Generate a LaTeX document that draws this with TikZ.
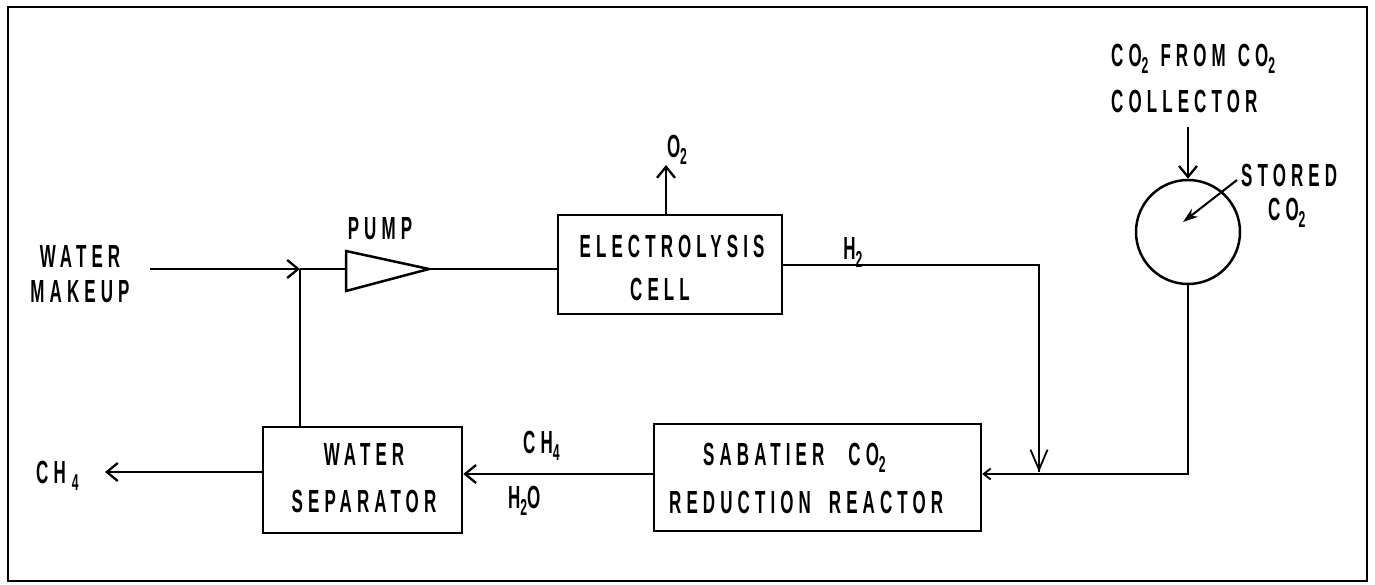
\documentclass[tikz,border=0pt]{standalone}
\usepackage{fontspec}
\setmainfont{Liberation Sans}[FakeStretch=0.53,LetterSpace=16]
\usetikzlibrary{arrows.meta}
\newcommand\lsub[1]{\raisebox{-7pt}{\fontsize{23}{23}\selectfont #1}}
\newcommand\lblfont{\fontsize{32}{34}\selectfont\bfseries}
\begin{document}
\begin{tikzpicture}[x=1pt,y=-1pt,line width=2.3pt,
  box/.style={draw,line width=2.5pt,inner sep=0pt},
  lab/.style={inner sep=0pt,font=\lblfont},
  oarr/.style={-{Straight Barb[length=11pt,width=18pt,line width=2.3pt]}},
  varr/.style={-{Straight Barb[length=20pt,width=17pt,line width=1.8pt]}},
  sarr/.style={-{Straight Barb[length=7pt,width=11pt,line width=1.8pt]}},
  larr/.style={-{Stealth[length=15pt,width=10pt]},line width=2pt}]
\useasboundingbox (0,0) rectangle (1375,585);
\draw[line width=2.2pt] (8,7) rectangle (1367,581);

% blocks
\node[box,minimum width=224pt,minimum height=99pt] (cell) at (670,264.5) {};
\node[box,minimum width=199pt,minimum height=106pt] (sep) at (362.5,480) {};
\node[box,minimum width=327pt,minimum height=107pt] (sab) at (817.5,477.5) {};
\node[draw,circle,line width=2.5pt,minimum size=104pt,inner sep=0pt] (tank) at (1188,232) {};

% pump
\coordinate (pin) at (346,269);
\coordinate (pout) at (429,269);
\draw[line width=2.5pt] (346,251) -- (pout) -- (346,291) -- cycle;

% coordinates
\coordinate (wm) at (150,269);
\coordinate (jn) at (300,269);
\coordinate (o2) at (666,165);
\coordinate (h2c) at (1039,265);
\coordinate (h2d) at (1039,472);
\coordinate (tk) at (1188,474);
\coordinate (cc) at (1188,127);
\coordinate (st) at (1237,180);
\coordinate (stc) at (1183,222);
\coordinate (mid) at (600,474);
\coordinate (ch4) at (105,472);

% connectors
\draw[oarr] (wm) -- (jn);
\draw (jn) -- (pin);
\draw (pout) -- (cell.west |- pout);
\draw (jn) -- (jn |- sep.north);
\draw[oarr] (o2 |- cell.north) -- (o2);
\draw (cell.east |- h2c) -- (h2c) -- (h2d);
\draw[varr] (h2c) -- (h2d);
\draw[oarr] (cc) -- (tank.north);
\draw[larr] (st) -- (stc);
\draw[sarr] (tank.south) -- (tk) -- (sab.east |- tk);
\draw[oarr] (sab.west |- mid) -- (sep.east |- mid);
\draw[oarr] (sep.west |- ch4) -- (ch4);

% labels
\node[lab,anchor=base] (lwater) at (80,267) {WATER};
\node[lab,anchor=base] (lmakeup) at (80,302) {MAKEUP};
\node[lab,anchor=base] (lpump) at (380,240) {PUMP};
\node[lab,anchor=base] (lelec) at (672,258) {ELECTROLYSIS};
\node[lab,anchor=base] (lcell) at (660,300) {CELL};
\node[lab,anchor=base] (lo2) at (677,158) {O\lsub{2}};
\node[lab,anchor=base] (lh2) at (853,260) {H\lsub{2}};
\node[lab,anchor=base west] (lco2a) at (1110,67) {CO\lsub{2}\hspace{12pt}FROM\hspace{12pt}CO\lsub{2}};
\node[lab,anchor=base west] (lco2b) at (1110,113) {COLLECTOR};
\node[lab,anchor=base west] (lstor) at (1240,187) {STORED};
\node[lab,anchor=base west] (lstco) at (1267,221) {CO\lsub{2}};
\node[lab,anchor=base west] (lsab1) at (702,465) {SABATIER\hspace{24pt}CO\lsub{2}};
\node[lab,anchor=base west] (lsab2) at (668,513) {REDUCTION\hspace{18pt}REACTOR};
\node[lab,anchor=base] (lsep1) at (364,465) {WATER};
\node[lab,anchor=base] (lsep2) at (364,512) {SEPARATOR};
\node[lab,anchor=base west] (lch4m) at (522,453) {CH\lsub{4}};
\node[lab,anchor=base west] (lh2o) at (507,508) {H\lsub{2}O};
\node[lab,anchor=base west] (lch4l) at (35,483) {CH\hspace{6pt}\lsub{4}};
\end{tikzpicture}
\end{document}
